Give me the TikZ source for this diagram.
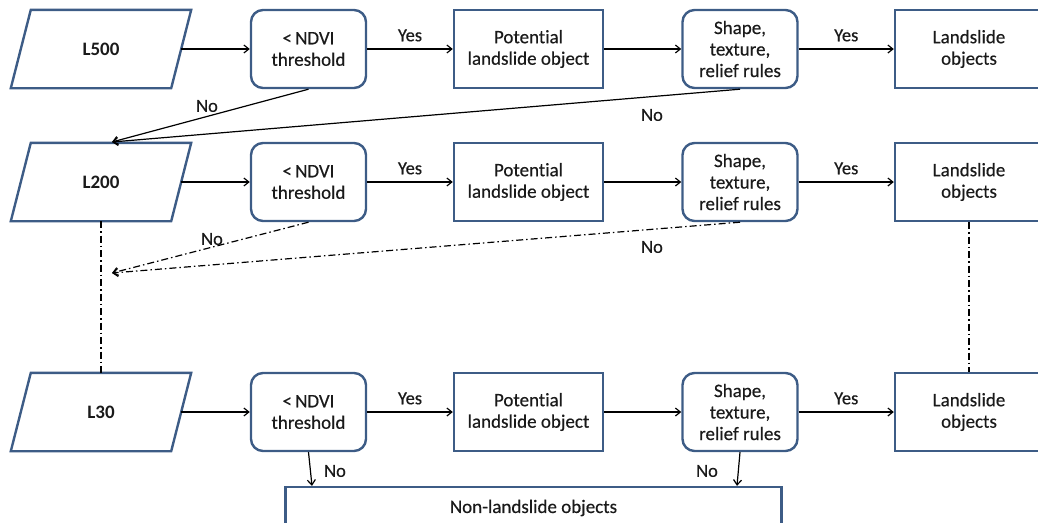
\documentclass[tikz,border=0pt]{standalone}
\usepackage{fontspec}
\setmainfont{Carlito}[Ligatures=NoCommon]
\newfontfamily\medfont{Carlito}[Ligatures=NoCommon,FakeBold=0.4]
\usetikzlibrary{arrows.meta,calc}
\definecolor{bordercol}{HTML}{3D5C86}
\definecolor{txtcol}{HTML}{1A1A1A}
\begin{document}
\begin{tikzpicture}[x=1pt,y=-1pt,
  every node/.style={text=txtcol,font=\medfont\fontsize{19}{21.5}\selectfont,align=center,inner sep=0pt},
  para/.style={minimum width=160,minimum height=78,font=\fontsize{19}{21.5}\selectfont\bfseries},
  decbox/.style={draw=bordercol,line width=2.4pt,rounded corners=12pt,minimum width=115,minimum height=78},
  potbox/.style={draw=bordercol,line width=2.4pt,minimum width=149,minimum height=78},
  lsbox/.style={draw=bordercol,line width=2.4pt,minimum width=148,minimum height=78},
  paraline/.style={draw=bordercol,line width=2.4pt,line join=miter},
  conn/.style={draw=black,line width=1.2pt,-{Straight Barb[length=5pt,width=8pt]}},
  dashdot/.style={draw=black,line width=1.2pt,dash pattern=on 7pt off 3pt on 1.5pt off 3pt},
  lbl/.style={font=\medfont\fontsize{18.5}{21}\selectfont}
]
\useasboundingbox (0,0) rectangle (1038,522);

% Row 1
\node[para] (L500) at (101,49) {L500};
\node[decbox] (N1) at (308.5,49) {<\,NDVI\\threshold};
\node[potbox] (P1) at (528.5,49) {Potential\\landslide object};
\node[decbox] (S1) at (740,49) {Shape,\\texture,\\relief rules};
\node[lsbox] (O1) at (969,49) {Landslide\\objects};

% Row 2
\node[para] (L200) at (101,182) {L200};
\node[decbox] (N2) at (308.5,182) {<\,NDVI\\threshold};
\node[potbox] (P2) at (528.5,182) {Potential\\landslide object};
\node[decbox] (S2) at (740,182) {Shape,\\texture,\\relief rules};
\node[lsbox] (O2) at (969,182) {Landslide\\objects};

% Row 3
\node[para] (L30) at (101,412) {L30};
\node[decbox] (N3) at (308.5,412) {<\,NDVI\\threshold};
\node[potbox] (P3) at (528.5,412) {Potential\\landslide object};
\node[decbox] (S3) at (740,412) {Shape,\\texture,\\relief rules};
\node[lsbox] (O3) at (969,412) {Landslide\\objects};

% parallelogram outlines
\foreach \n in {L500,L200,L30}{
  \draw[paraline] ($(\n.north west)+(10,0)$) -- ($(\n.north east)+(10,0)$)
    -- ($(\n.south east)+(-10,0)$) -- ($(\n.south west)+(-10,0)$) -- cycle;
}

% Non-landslide
\node[draw=bordercol,line width=2.4pt,minimum width=496,minimum height=42] (NL) at (533.5,508) {Non-landslide objects};

% horizontal connectors
\foreach \r in {1,2,3}{
  \draw[conn] (N\r.east) -- node[lbl,above=7pt]{Yes} (P\r.west);
  \draw[conn] (P\r.east) -- (S\r.west);
  \draw[conn] (S\r.east) -- node[lbl,above=7pt]{Yes} (O\r.west);
}
\draw[conn] (L500.east) -- (N1.west);
\draw[conn] (L200.east) -- (N2.west);
\draw[conn] (L30.east) -- (N3.west);

% Row 1 No connectors
\coordinate (t1) at (112,142);
\draw[conn] (N1.south) -- (t1);
\draw[conn] (S1.south) -- (t1);
\node[lbl] (no1a) at (207,106) {No};
\node[lbl] (no1b) at (652,115) {No};

% Row 2 No connectors (dash-dot)
\coordinate (t2) at (112,273);
\draw[dashdot,-{Straight Barb[length=5pt,width=8pt]}] (N2.south) -- (t2);
\draw[dashdot,-{Straight Barb[length=5pt,width=8pt]}] (S2.south) -- (t2);
\node[lbl] (no2a) at (212,239) {No};
\node[lbl] (no2b) at (652,247) {No};

% vertical dash-dot links
\draw[dashdot] (L200.south) -- (L30.north);
\draw[dashdot] (O2.south) -- (O3.north);

% Row 3 No connectors
\draw[conn] (N3.south) -- (NL.north -| 312,0);
\draw[conn] (S3.south) -- (NL.north -| 737,0);
\node[lbl] (no3a) at (335,471) {No};
\node[lbl] (no3b) at (707,471) {No};
\end{tikzpicture}
\end{document}
